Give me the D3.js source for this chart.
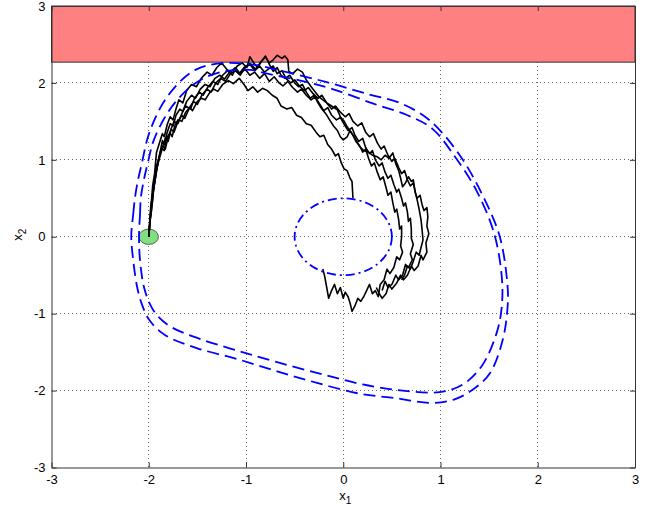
<!DOCTYPE html>
<html>
<head>
<meta charset="utf-8">
<script src="https://cdn.jsdelivr.net/npm/d3@7"></script>
<style>
	body { margin: 0; background: #fff; }
	text { font-family: 'Liberation Sans', Arial, sans-serif; }
</style>
</head>
<body>
<svg></svg>
<script>
'use strict'

let width = 652,
	height = 510

// tick values on both axes
let xTicks = [-3, -2, -1, 0, 1, 2, 3]
let yTicks = [-3, -2, -1, 0, 1, 2, 3]

// unsafe region (x2 above this level) and start / target sets
let unsafeBand = [2.27, 3]
let startCenter = [-2, 0]
let startRadius = 0.1
let targetRadius = 0.5

// barrier level sets (two dashed curves)
let outerLevel = [[-2.18, 0], [-2.16, 0.29], [-2.14, 0.52], [-2.11, 0.74], [-2.07, 0.96], [-2.01, 1.29], [-1.92, 1.58],
	[-1.81, 1.82], [-1.66, 2.04], [-1.52, 2.17], [-1.39, 2.23], [-1.16, 2.26], [-0.89, 2.23], [-0.58, 2.14],
	[-0.17, 2.01], [0.24, 1.86], [0.58, 1.74], [0.82, 1.58], [0.99, 1.39], [1.23, 1.00], [1.44, 0.52],
	[1.61, 0.00], [1.69, -0.65], [1.69, -0.91], [1.64, -1.34], [1.51, -1.77], [1.33, -1.99], [1.13, -2.12],
	[0.89, -2.16], [0.55, -2.10], [0.17, -2.04], [-0.27, -1.90], [-0.68, -1.75], [-1.09, -1.59], [-1.50, -1.45],
	[-1.83, -1.28], [-1.99, -1.09], [-2.07, -0.88], [-2.12, -0.65], [-2.16, -0.30]]

let innerLevel = [[-2.10, 0], [-2.09, 0.29], [-2.08, 0.52], [-2.05, 0.74], [-2.01, 0.96], [-1.95, 1.25], [-1.84, 1.54],
	[-1.72, 1.76], [-1.57, 1.95], [-1.42, 2.07], [-1.22, 2.15], [-0.96, 2.17], [-0.78, 2.12], [-0.44, 2.03],
	[-0.11, 1.92], [0.31, 1.73], [0.66, 1.58], [0.92, 1.40], [1.16, 1.02], [1.37, 0.60], [1.55, 0.05],
	[1.63, -0.52], [1.63, -0.91], [1.58, -1.24], [1.43, -1.67], [1.23, -1.92], [0.99, -2.02], [0.61, -2.00],
	[0.20, -1.92], [-0.21, -1.79], [-0.68, -1.63], [-1.09, -1.48], [-1.47, -1.33], [-1.76, -1.18], [-1.91, -1.03],
	[-1.99, -0.87], [-2.05, -0.65], [-2.09, -0.30]]

// sample trajectories of the stochastic system
let trajA = [[-2.00, 0.00], [-1.99, 0.18], [-1.97, 0.35], [-1.96, 0.52], [-1.94, 0.70], [-1.92, 0.86], [-1.90, 1.00],
	[-1.88, 1.12], [-1.86, 1.25], [-1.84, 1.20], [-1.81, 1.36], [-1.78, 1.47], [-1.75, 1.44], [-1.72, 1.58],
	[-1.68, 1.66], [-1.65, 1.63], [-1.61, 1.76], [-1.56, 1.84], [-1.52, 1.80], [-1.47, 1.92], [-1.42, 1.98],
	[-1.37, 1.95], [-1.32, 2.06], [-1.27, 2.10], [-1.22, 2.05], [-1.17, 2.14], [-1.12, 2.18], [-1.07, 2.12],
	[-1.02, 2.20], [-0.96, 2.25], [-0.90, 2.18], [-0.85, 2.27], [-0.80, 2.34], [-0.76, 2.26], [-0.72, 2.30],
	[-0.68, 2.36], [-0.63, 2.32], [-0.60, 2.35], [-0.57, 2.30], [-0.56, 2.15], [-0.52, 2.12], [-0.47, 2.18],
	[-0.42, 2.14], [-0.38, 2.04], [-0.33, 1.95], [-0.30, 1.90], [-0.25, 1.82], [-0.21, 1.78], [-0.17, 1.74],
	[-0.12, 1.70], [-0.06, 1.65], [-0.03, 1.56], [0.01, 1.50], [0.04, 1.43], [0.08, 1.36], [0.11, 1.30],
	[0.14, 1.24], [0.17, 1.17], [0.21, 1.12], [0.26, 1.10], [0.30, 1.06], [0.35, 1.04], [0.39, 1.00],
	[0.43, 1.06], [0.47, 1.02], [0.51, 1.09], [0.54, 0.95], [0.57, 0.86], [0.59, 0.76], [0.61, 0.65],
	[0.64, 0.70], [0.67, 0.78], [0.70, 0.72], [0.72, 0.74], [0.74, 0.58], [0.76, 0.48], [0.78, 0.36],
	[0.80, 0.22], [0.81, 0.10], [0.82, -0.04], [0.80, -0.14], [0.78, -0.24], [0.75, -0.20], [0.72, -0.32],
	[0.69, -0.42], [0.66, -0.38], [0.63, -0.50], [0.60, -0.56]]

let trajB = [[-2.00, 0.00], [-1.99, 0.20], [-1.98, 0.38], [-1.96, 0.55], [-1.94, 0.72], [-1.92, 0.88], [-1.89, 1.02],
	[-1.86, 1.15], [-1.83, 1.28], [-1.80, 1.24], [-1.77, 1.40], [-1.74, 1.50], [-1.70, 1.47], [-1.66, 1.60],
	[-1.62, 1.70], [-1.57, 1.66], [-1.53, 1.80], [-1.48, 1.88], [-1.44, 1.84], [-1.39, 1.95], [-1.34, 2.02],
	[-1.29, 1.98], [-1.24, 2.10], [-1.19, 2.16], [-1.14, 2.10], [-1.09, 2.22], [-1.04, 2.26], [-0.99, 2.20],
	[-0.96, 2.34], [-0.92, 2.26], [-0.88, 2.20], [-0.84, 2.28], [-0.80, 2.35], [-0.76, 2.24], [-0.72, 2.15],
	[-0.68, 2.20], [-0.64, 2.10], [-0.60, 2.06], [-0.55, 2.10], [-0.50, 2.00], [-0.46, 1.95], [-0.42, 1.98],
	[-0.38, 1.88], [-0.34, 1.80], [-0.30, 1.84], [-0.26, 1.74], [-0.22, 1.66], [-0.18, 1.60], [-0.14, 1.52],
	[-0.10, 1.44], [-0.06, 1.38], [-0.03, 1.30], [0.00, 1.26], [0.04, 1.30], [0.07, 1.38], [0.10, 1.32],
	[0.13, 1.24], [0.17, 1.18], [0.20, 1.10], [0.23, 1.14], [0.26, 1.02], [0.29, 0.92], [0.32, 0.96],
	[0.35, 0.84], [0.38, 0.74], [0.41, 0.78], [0.44, 0.64], [0.46, 0.54], [0.49, 0.58], [0.51, 0.44],
	[0.53, 0.32], [0.55, 0.36], [0.57, 0.22], [0.58, 0.10], [0.60, 0.14], [0.60, 0.00], [0.59, -0.12],
	[0.61, -0.20], [0.58, -0.30], [0.55, -0.26], [0.52, -0.40], [0.48, -0.48], [0.45, -0.42], [0.42, -0.56],
	[0.38, -0.62], [0.36, -0.78], [0.33, -0.70], [0.30, -0.74], [0.27, -0.62], [0.24, -0.70], [0.21, -0.78],
	[0.18, -0.84], [0.15, -0.80], [0.12, -0.90], [0.09, -0.97], [0.07, -0.86], [0.05, -0.78], [0.02, -0.72],
	[0.00, -0.80], [-0.03, -0.66], [-0.06, -0.74], [-0.09, -0.62], [-0.12, -0.70], [-0.15, -0.80],
	[-0.17, -0.66], [-0.19, -0.52], [-0.21, -0.42]]

let trajC = [[-2.00, 0.00], [-1.99, 0.16], [-1.98, 0.33], [-1.97, 0.50], [-1.96, 0.66], [-1.94, 0.82], [-1.93, 0.96],
	[-1.92, 1.10], [-1.89, 1.22], [-1.86, 1.34], [-1.84, 1.30], [-1.81, 1.46], [-1.78, 1.56], [-1.75, 1.52],
	[-1.72, 1.66], [-1.69, 1.78], [-1.65, 1.74], [-1.61, 1.90], [-1.56, 1.98], [-1.51, 1.95], [-1.46, 2.06],
	[-1.40, 2.14], [-1.35, 2.10], [-1.30, 2.20], [-1.25, 2.26], [-1.20, 2.18], [-1.16, 2.14], [-1.11, 2.20],
	[-1.06, 2.12], [-1.01, 2.18], [-0.96, 2.10], [-0.91, 2.14], [-0.86, 2.06], [-0.81, 2.12], [-0.76, 2.02],
	[-0.71, 2.08], [-0.66, 2.00], [-0.62, 1.96], [-0.57, 2.02], [-0.52, 1.94], [-0.47, 1.88], [-0.43, 1.92],
	[-0.38, 1.84], [-0.33, 1.78], [-0.29, 1.82], [-0.24, 1.72], [-0.20, 1.64], [-0.16, 1.68], [-0.12, 1.58],
	[-0.07, 1.52], [-0.03, 1.55], [0.01, 1.46], [0.05, 1.38], [0.09, 1.42], [0.12, 1.32], [0.16, 1.24],
	[0.20, 1.28], [0.23, 1.16], [0.27, 1.08], [0.30, 1.12], [0.33, 1.00], [0.37, 0.92], [0.40, 0.96],
	[0.43, 0.84], [0.46, 0.76], [0.49, 0.80], [0.52, 0.68], [0.55, 0.58], [0.57, 0.62], [0.60, 0.50],
	[0.62, 0.40], [0.64, 0.44], [0.66, 0.32], [0.67, 0.20], [0.69, 0.24], [0.70, 0.10], [0.70, -0.02],
	[0.72, -0.10], [0.69, -0.22], [0.71, -0.30], [0.67, -0.40], [0.64, -0.36], [0.61, -0.50], [0.57, -0.56],
	[0.54, -0.50], [0.50, -0.62], [0.46, -0.66], [0.43, -0.58], [0.40, -0.70]]

let trajD = [[-2.00, 0.00], [-1.99, 0.14], [-1.98, 0.30], [-1.96, 0.47], [-1.95, 0.62], [-1.93, 0.78], [-1.91, 0.92],
	[-1.89, 1.06], [-1.86, 1.18], [-1.83, 1.14], [-1.80, 1.30], [-1.77, 1.40], [-1.74, 1.36], [-1.70, 1.50],
	[-1.66, 1.58], [-1.63, 1.54], [-1.58, 1.68], [-1.54, 1.76], [-1.50, 1.72], [-1.45, 1.85], [-1.40, 1.92],
	[-1.36, 1.88], [-1.31, 2.00], [-1.26, 2.06], [-1.21, 2.02], [-1.16, 2.12], [-1.11, 2.16], [-1.06, 2.10],
	[-1.01, 2.20], [-0.96, 2.24], [-0.91, 2.16], [-0.86, 2.22], [-0.81, 2.14], [-0.77, 2.18], [-0.72, 2.22],
	[-0.68, 2.12], [-0.63, 2.16], [-0.59, 2.06], [-0.54, 2.00], [-0.50, 2.04], [-0.45, 1.96], [-0.40, 1.90],
	[-0.36, 1.94], [-0.31, 1.86], [-0.26, 1.80], [-0.22, 1.84], [-0.17, 1.74], [-0.12, 1.66], [-0.08, 1.70],
	[-0.03, 1.62], [0.02, 1.56], [0.06, 1.60], [0.10, 1.50], [0.15, 1.44], [0.19, 1.48], [0.23, 1.36],
	[0.27, 1.30], [0.31, 1.34], [0.35, 1.22], [0.39, 1.14], [0.42, 1.18], [0.46, 1.06], [0.50, 0.98],
	[0.53, 1.02], [0.57, 0.90], [0.60, 0.82], [0.63, 0.86], [0.66, 0.74], [0.69, 0.66], [0.72, 0.70],
	[0.74, 0.58], [0.76, 0.50], [0.79, 0.54], [0.81, 0.42], [0.83, 0.34], [0.86, 0.38], [0.87, 0.26],
	[0.86, 0.14], [0.88, 0.04], [0.85, -0.08], [0.86, -0.20], [0.82, -0.30], [0.80, -0.24], [0.77, -0.38],
	[0.73, -0.44], [0.70, -0.38], [0.66, -0.50], [0.62, -0.56], [0.59, -0.50], [0.55, -0.60], [0.50, -0.68],
	[0.47, -0.62], [0.44, -0.74], [0.40, -0.80], [0.37, -0.74], [0.34, -0.66]]

let trajE = [[-2.00, 0.00], [-1.99, 0.15], [-1.98, 0.30], [-1.97, 0.45], [-1.95, 0.62], [-1.93, 0.78], [-1.92, 0.92],
	[-1.89, 1.05], [-1.87, 1.15], [-1.84, 1.12], [-1.82, 1.28], [-1.78, 1.35], [-1.76, 1.30], [-1.73, 1.45],
	[-1.70, 1.52], [-1.66, 1.50], [-1.62, 1.62], [-1.58, 1.68], [-1.55, 1.64], [-1.50, 1.76], [-1.46, 1.80],
	[-1.42, 1.78], [-1.37, 1.88], [-1.33, 1.92], [-1.29, 1.89], [-1.24, 1.98], [-1.18, 2.03], [-1.13, 1.99],
	[-1.07, 2.06], [-1.02, 1.98], [-0.98, 1.90], [-0.93, 1.95], [-0.88, 1.88], [-0.83, 1.93], [-0.78, 1.90],
	[-0.73, 1.84], [-0.68, 1.80], [-0.64, 1.70], [-0.58, 1.66], [-0.53, 1.68], [-0.48, 1.58], [-0.43, 1.55],
	[-0.38, 1.47], [-0.33, 1.45], [-0.28, 1.36], [-0.24, 1.30], [-0.20, 1.32], [-0.16, 1.20], [-0.12, 1.14],
	[-0.08, 1.05], [-0.05, 1.08], [-0.02, 0.96], [0.01, 0.88], [0.04, 0.86], [0.07, 0.76], [0.09, 0.72],
	[0.10, 0.50]]

let trajectories = [trajA, trajB, trajC, trajD, trajE]

let svg = d3.select('svg')
	.attr('width', width)
	.attr('height', height)

let x = d3.scaleLinear().domain([-3, 3]).range([51.5, 635])
let y = d3.scaleLinear().domain([-3, 3]).range([467.5, 6])

// grid
let grid = svg.append('g').attr('class', 'grid')
grid.selectAll('line.gx')
	.data(xTicks.slice(1, -1))
	.enter().append('line')
	.attr('x1', function(d) { return x(d) })
	.attr('x2', function(d) { return x(d) })
	.attr('y1', y(3))
	.attr('y2', y(-3))
grid.selectAll('line.gy')
	.data(yTicks.slice(1, -1))
	.enter().append('line')
	.attr('y1', function(d) { return y(d) })
	.attr('y2', function(d) { return y(d) })
	.attr('x1', x(-3))
	.attr('x2', x(3))
grid.selectAll('line')
	.attr('stroke', '#666')
	.attr('stroke-width', 1)
	.attr('stroke-dasharray', '1,3')
	.attr('shape-rendering', 'crispEdges')

// unsafe band
svg.append('rect')
	.attr('x', x(-3))
	.attr('y', y(unsafeBand[1]))
	.attr('width', x(3) - x(-3))
	.attr('height', y(unsafeBand[0]) - y(unsafeBand[1]))
	.attr('fill', '#ff8080')
	.attr('stroke', '#333')
	.attr('stroke-width', 1)

// start set
svg.append('ellipse')
	.attr('cx', x(startCenter[0]))
	.attr('cy', y(startCenter[1]))
	.attr('rx', x(startRadius) - x(0))
	.attr('ry', y(0) - y(startRadius))
	.attr('fill', '#80e080')
	.attr('stroke', '#444')
	.attr('stroke-width', 0.8)

let line = d3.line()
	.x(function(d) { return x(d[0]) })
	.y(function(d) { return y(d[1]) })

let closed = d3.line()
	.x(function(d) { return x(d[0]) })
	.y(function(d) { return y(d[1]) })
	.curve(d3.curveCatmullRomClosed)

// trajectories
svg.append('g')
	.selectAll('path')
	.data(trajectories)
	.enter().append('path')
	.attr('d', line)
	.attr('fill', 'none')
	.attr('stroke', '#000')
	.attr('stroke-width', 1.6)
	.attr('stroke-linejoin', 'round')

// level sets
svg.append('g')
	.selectAll('path')
	.data([outerLevel, innerLevel])
	.enter().append('path')
	.attr('d', closed)
	.attr('fill', 'none')
	.attr('stroke', '#0000ff')
	.attr('stroke-width', 1.8)
	.attr('stroke-dasharray', '12,6')

// target set
svg.append('ellipse')
	.attr('cx', x(0))
	.attr('cy', y(0))
	.attr('rx', x(targetRadius) - x(0))
	.attr('ry', y(0) - y(targetRadius))
	.attr('fill', 'none')
	.attr('stroke', '#0000ff')
	.attr('stroke-width', 1.8)
	.attr('stroke-dasharray', '9,4,2,4')

// axes
let axes = svg.append('g').attr('class', 'axes')

axes.append('g')
	.attr('transform', 'translate(0,' + y(-3) + ')')
	.call(d3.axisBottom(x).tickValues(xTicks).tickSizeInner(-5).tickSizeOuter(0).tickPadding(7)
		.tickFormat(function(d) { return String(d) }))

axes.append('g')
	.attr('transform', 'translate(' + x(-3) + ',0)')
	.call(d3.axisLeft(y).tickValues(yTicks).tickSizeInner(-5).tickSizeOuter(0).tickPadding(6)
		.tickFormat(function(d) { return String(d) }))

axes.append('g')
	.attr('transform', 'translate(0,' + y(3) + ')')
	.call(d3.axisTop(x).tickValues(xTicks).tickSizeInner(-5).tickSizeOuter(0).tickFormat(''))

axes.append('g')
	.attr('transform', 'translate(' + x(3) + ',0)')
	.call(d3.axisRight(y).tickValues(yTicks).tickSizeInner(-5).tickSizeOuter(0).tickFormat(''))

axes.selectAll('path.domain').attr('stroke', '#333')
axes.selectAll('.tick line').attr('stroke', '#333')
axes.selectAll('text')
	.attr('font-family', "'Liberation Sans', Arial, sans-serif")
	.attr('font-size', 13)
	.attr('fill', '#000')

// axis labels
let xl = svg.append('text')
	.attr('x', x(0) - 4)
	.attr('y', 500)
	.attr('font-size', 13)
xl.append('tspan').text('x')
xl.append('tspan').attr('dy', 4).attr('font-size', 10).text('1')

let yl = svg.append('text')
	.attr('transform', 'translate(22,' + (y(0) + 4) + ') rotate(-90)')
	.attr('font-size', 13)
yl.append('tspan').text('x')
yl.append('tspan').attr('dy', 4).attr('font-size', 10).text('2')
</script>
</body>
</html>
